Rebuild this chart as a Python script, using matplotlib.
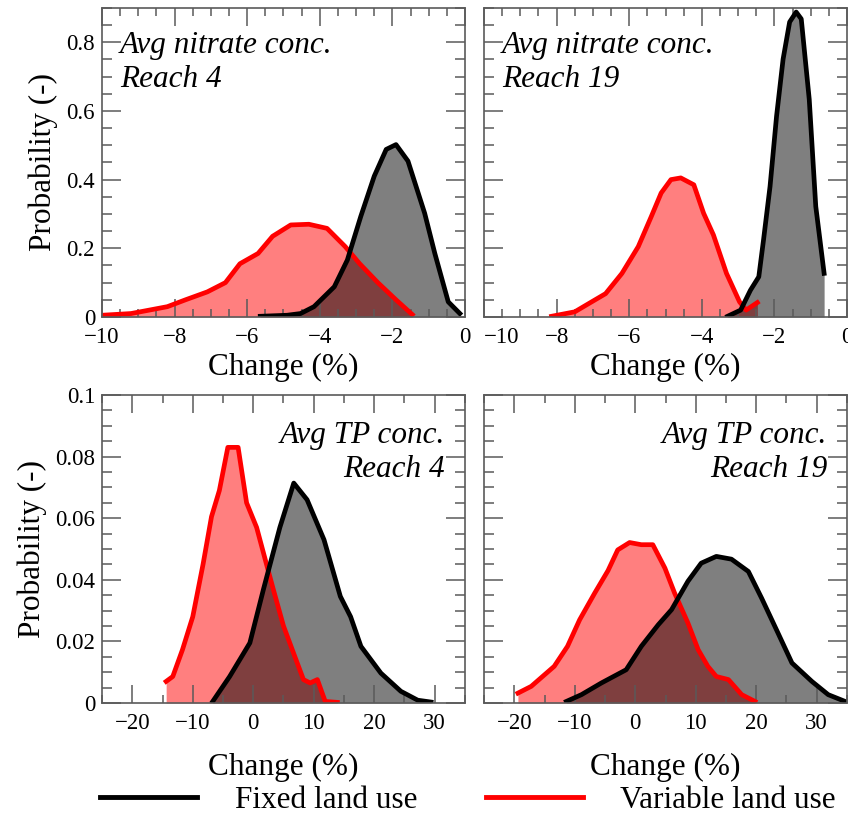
import matplotlib
matplotlib.use('Agg')
from matplotlib import pyplot as plt
from matplotlib.lines import Line2D
from matplotlib.ticker import MultipleLocator, FormatStrFormatter
import numpy as np

plt.rcParams['font.family'] = ['Liberation Serif', 'DejaVu Serif']

# nitrate, reach 4
no3_r4_var_x = [-10, -9.2, -8.2, -7.7, -7.1, -6.6, -6.2, -5.7, -5.3, -4.8, -4.3, -3.8, -3.3, -2.9, -2.4, -1.9, -1.45]
no3_r4_var_y = [0.005, 0.01, 0.03, 0.05, 0.073, 0.10, 0.155, 0.185, 0.235, 0.268, 0.27, 0.258, 0.205, 0.155, 0.10, 0.05, 0.007]
no3_r4_fix_x = [-5.64, -4.9, -4.53, -4.16, -3.6, -3.24, -2.87, -2.5, -2.17, -1.9, -1.57, -1.11, -0.83, -0.46, -0.14]
no3_r4_fix_y = [0.002, 0.005, 0.01, 0.03, 0.088, 0.166, 0.293, 0.41, 0.488, 0.502, 0.454, 0.302, 0.185, 0.044, 0.01]

# nitrate, reach 19
no3_r19_var_x = [-8.14, -7.5, -7.1, -6.65, -6.2, -5.75, -5.39, -5.12, -4.85, -4.58, -4.22, -3.95, -3.68, -3.32, -2.96, -2.78, -2.47]
no3_r19_var_y = [0.002, 0.015, 0.04, 0.068, 0.127, 0.205, 0.293, 0.361, 0.40, 0.405, 0.385, 0.302, 0.239, 0.127, 0.044, 0.02, 0.042]
no3_r19_fix_x = [-3.29, -2.93, -2.66, -2.43, -2.3, -2.12, -1.94, -1.76, -1.58, -1.4, -1.26, -1.04, -0.86, -0.63]
no3_r19_fix_y = [0.002, 0.02, 0.078, 0.117, 0.224, 0.38, 0.585, 0.751, 0.859, 0.888, 0.868, 0.634, 0.322, 0.127]

# TP, reach 4
tp_r4_var_x = [-14.4, -13.3, -11.7, -10, -8.3, -6.9, -5.6, -4.2, -2.5, -1.1, 0.56, 2.2, 3.3, 5, 6.7, 8.3, 9.4, 10.6, 11.9, 13.9]
tp_r4_var_y = [0.007, 0.0086, 0.0173, 0.028, 0.045, 0.0605, 0.069, 0.083, 0.083, 0.065, 0.057, 0.045, 0.037, 0.025, 0.016, 0.0076, 0.0065, 0.0076, 0.0005, 0.0002]
tp_r4_fix_x = [-6.7, -3.9, -0.56, 1.7, 4.4, 6.7, 8.9, 11.7, 14.4, 16.1, 17.8, 21.1, 24.4, 27.2, 29.4]
tp_r4_fix_y = [0.0005, 0.0086, 0.0195, 0.037, 0.057, 0.0714, 0.066, 0.053, 0.0346, 0.028, 0.0184, 0.0097, 0.0038, 0.0009, 0.0003]

# TP, reach 19
tp_r19_var_x = [-19.4, -17.2, -13.4, -11.2, -9.2, -6.7, -4.5, -2.9, -0.94, 1.0, 2.9, 4.9, 6.5, 8.7, 10.4, 12.0, 13.4, 15.4, 17.6, 19.8]
tp_r19_var_y = [0.0032, 0.0054, 0.0119, 0.0184, 0.027, 0.0357, 0.043, 0.0497, 0.0521, 0.0514, 0.0514, 0.0438, 0.0357, 0.026, 0.0173, 0.0119, 0.0086, 0.0076, 0.0027, 0.0005]
tp_r19_fix_x = [-11.4, -8.9, -5.6, -1.5, 1.0, 3.8, 6.0, 8.7, 10.9, 13.4, 15.9, 18.7, 20.9, 23.6, 25.9, 29.2, 31.9, 34.7]
tp_r19_fix_y = [0.0005, 0.0027, 0.0065, 0.0108, 0.0184, 0.0254, 0.0303, 0.0395, 0.0454, 0.0476, 0.0467, 0.0427, 0.034, 0.0227, 0.013, 0.007, 0.0027, 0.0005]

frame_col = '#5a5a5a'


def plot_pair(ax, var_x, var_y, fix_x, fix_y):
    ax.fill_between(var_x, var_y, 0, color='red', alpha=0.5, linewidth=0)
    ax.plot(var_x, var_y, color='red', linewidth=3.4, solid_joinstyle='round')
    ax.fill_between(fix_x, fix_y, 0, color='black', alpha=0.5, linewidth=0)
    ax.plot(fix_x, fix_y, color='black', linewidth=3.4, solid_joinstyle='round')


def style_axes(ax, xlim, ylim, xmaj, xmin, ymaj, ymin, ylabels, xpad, xlabelpad):
    ax.set_xlim(xlim)
    ax.set_ylim(ylim)
    ax.xaxis.set_major_locator(MultipleLocator(xmaj))
    ax.xaxis.set_minor_locator(MultipleLocator(xmin))
    ax.yaxis.set_major_locator(MultipleLocator(ymaj))
    ax.yaxis.set_minor_locator(MultipleLocator(ymin))
    ax.yaxis.set_major_formatter(FormatStrFormatter('%g'))
    ax.tick_params(axis='both', which='both', direction='in', top=True, right=True,
                   color=frame_col, width=1.1, labelsize=16.5)
    ax.tick_params(axis='x', which='major', length=13, pad=xpad)
    ax.tick_params(axis='x', which='minor', length=5.5)
    ax.tick_params(axis='y', which='major', length=14, pad=5)
    ax.tick_params(axis='y', which='minor', length=7)
    for s in ax.spines.values():
        s.set_color(frame_col)
        s.set_linewidth(1.2)
    ax.set_xlabel('Change (%)', fontsize=22.5, labelpad=xlabelpad)
    if ylabels:
        ax.set_ylabel('Probability (-)', fontsize=22.5, labelpad=6)
    else:
        ax.tick_params(axis='y', labelleft=False)


fig = plt.figure(figsize=(8.48, 8.18), dpi=100)
ax1 = fig.add_axes([0.1203, 0.6125, 0.428, 0.3778])
ax2 = fig.add_axes([0.5708, 0.6125, 0.428, 0.3778])
ax3 = fig.add_axes([0.1203, 0.1406, 0.428, 0.3765])
ax4 = fig.add_axes([0.5708, 0.1406, 0.428, 0.3765])

plot_pair(ax1, no3_r4_var_x, no3_r4_var_y, no3_r4_fix_x, no3_r4_fix_y)
plot_pair(ax2, no3_r19_var_x, no3_r19_var_y, no3_r19_fix_x, no3_r19_fix_y)
plot_pair(ax3, tp_r4_var_x, tp_r4_var_y, tp_r4_fix_x, tp_r4_fix_y)
plot_pair(ax4, tp_r19_var_x, tp_r19_var_y, tp_r19_fix_x, tp_r19_fix_y)

style_axes(ax1, (-10, 0), (0, 0.9), 2, 0.5, 0.2, 0.05, True, 7, 4)
style_axes(ax2, (-10, 0), (0, 0.9), 2, 0.5, 0.2, 0.05, False, 7, 4)
style_axes(ax3, (-25, 35), (0, 0.1), 10, 5, 0.02, 0.005, True, 7, 14)
style_axes(ax4, (-25, 35), (0, 0.1), 10, 5, 0.02, 0.005, False, 7, 14)

# left-align the -10 label of the right nitrate panel so it clears the "0" next to it
fig.canvas.draw()
for t in ax2.xaxis.get_major_ticks():
    if abs(t.get_loc() + 10) < 1e-9:
        t.label1.set_horizontalalignment('left')

ax1.text(0.05, 0.925, 'Avg nitrate conc.\nReach 4', transform=ax1.transAxes,
         ha='left', va='top', fontsize=22.5, style='italic', linespacing=1.2)
ax2.text(0.05, 0.925, 'Avg nitrate conc.\nReach 19', transform=ax2.transAxes,
         ha='left', va='top', fontsize=22.5, style='italic', linespacing=1.2)
ax3.text(0.945, 0.915, 'Avg TP conc.\nReach 4', transform=ax3.transAxes,
         ha='right', va='top', fontsize=22.5, style='italic', linespacing=1.2, multialignment='right')
ax4.text(0.945, 0.915, 'Avg TP conc.\nReach 19', transform=ax4.transAxes,
         ha='right', va='top', fontsize=22.5, style='italic', linespacing=1.2, multialignment='right')

handles = [Line2D([], [], color='black', linewidth=3.5),
           Line2D([], [], color='red', linewidth=3.5)]
fig.legend(handles, ['Fixed land use', 'Variable land use'], loc='center',
           bbox_to_anchor=(0.552, 0.021), ncol=2, frameon=False, fontsize=22.5,
           handlelength=3.1, handletextpad=1.2, columnspacing=2.2)

fig.savefig('out.png', dpi=100)
